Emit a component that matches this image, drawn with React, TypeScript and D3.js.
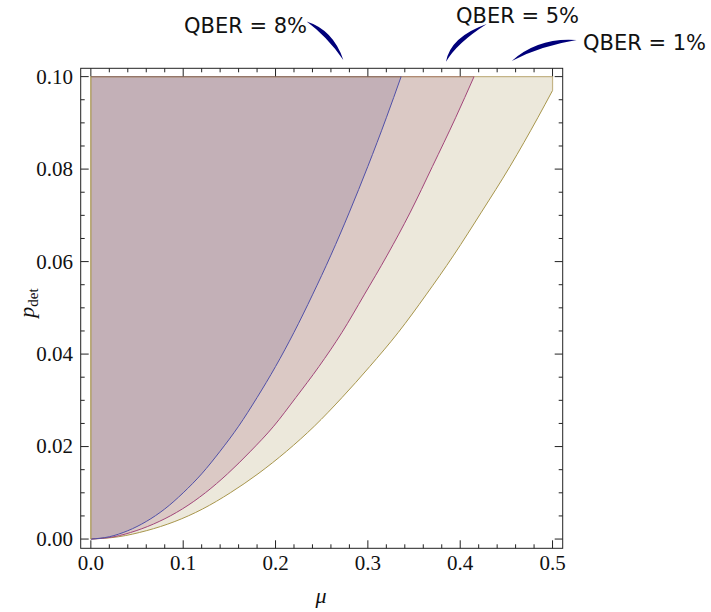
import React, { useRef, useEffect } from 'react';
import * as d3 from 'd3';

// boundary curves (mu, p_det)
const mu8 = [0, 0.02, 0.04, 0.06, 0.08, 0.1, 0.12, 0.14, 0.16, 0.18, 0.2, 0.22, 0.24, 0.26, 0.28, 0.3, 0.32, 0.336];
const p8 = [0, 0.0005, 0.0018, 0.0038, 0.0065, 0.01, 0.0141, 0.019, 0.0244, 0.0306, 0.0373, 0.0447, 0.0528, 0.0614, 0.0707, 0.0806, 0.0911, 0.1];

const mu5 = [0, 0.025, 0.049, 0.074, 0.099, 0.124, 0.148, 0.173, 0.198, 0.222, 0.247, 0.272, 0.296, 0.321, 0.346, 0.37, 0.395, 0.415];
const p5 = [0, 0.0005, 0.0018, 0.0038, 0.0065, 0.01, 0.0141, 0.019, 0.0244, 0.0306, 0.0373, 0.0447, 0.0528, 0.0614, 0.0707, 0.0806, 0.0911, 0.1];

const mu1 = [0, 0.03, 0.06, 0.091, 0.121, 0.151, 0.181, 0.212, 0.242, 0.272, 0.302, 0.333, 0.363, 0.393, 0.423, 0.454, 0.484, 0.5];
const p1 = [0, 0.0005, 0.0018, 0.0038, 0.0065, 0.01, 0.0141, 0.019, 0.0244, 0.0306, 0.0373, 0.0447, 0.0528, 0.0614, 0.0707, 0.0806, 0.0911, 0.097];

const xTicks = [0, 0.1, 0.2, 0.3, 0.4, 0.5];
const yTicks = [0, 0.02, 0.04, 0.06, 0.08, 0.1];

const pMax = 0.1;

// regions, drawn outer first
const regions = [
  { name: '1%', mu: mu1, p: p1, fill: '#ece8db', stroke: '#a8964c', top: '#c4b487' },
  { name: '5%', mu: mu5, p: p5, fill: '#dbc9c5', stroke: '#a2467a', top: '#b08a74' },
  { name: '8%', mu: mu8, p: p8, fill: '#c3b0b7', stroke: '#5050a8', top: '#94766a' },
];

// labels + arrows, in data coordinates (outside the frame, above p = 0.1)
const notes = [
  { text: 'QBER = 8%', tx: 0.2341, ty: 0.1094, anchor: 'end', a0: [0.2337, 0.1119], a1: [0.259, 0.1094], a2: [0.2734, 0.1036] },
  { text: 'QBER = 5%', tx: 0.3954, ty: 0.1117, anchor: 'start', a0: [0.4287, 0.1114], a1: [0.3925, 0.1079], a2: [0.3846, 0.1032] },
  { text: 'QBER = 1%', tx: 0.533, ty: 0.1058, anchor: 'start', a0: [0.5261, 0.1079], a1: [0.4864, 0.1076], a2: [0.4558, 0.1034] },
];

const App = () => {
  const svgRef = useRef<SVGSVGElement>(null);
  const width = 711;
  const height = 612;

  useEffect(() => {
    const svg = d3.select(svgRef.current).attr('width', width).attr('height', height);
    svg.selectAll('*').remove();

    const x = d3.scaleLinear().domain([-0.011, 0.511]).range([80.7, 562.7]);
    const y = d3.scaleLinear().domain([-0.002, 0.1018]).range([548.3, 68.3]);

    const [fx0, fx1] = x.range();
    const [fy0, fy1] = y.range(); // fy0 bottom, fy1 top

    const toPts = (r: { mu: number[]; p: number[] }) => r.mu.map((m, i) => [m, r.p[i]] as [number, number]);
    const straight = d3.line<[number, number]>().x(d => x(d[0])).y(d => y(d[1]));

    // filled regions
    regions.forEach(r => {
      const area = d3
        .area<[number, number]>()
        .x(d => x(d[0]))
        .y0(y(pMax))
        .y1(d => y(d[1]))
        .curve(d3.curveMonotoneX);
      svg.append('path').attr('d', area(toPts(r))).attr('fill', r.fill).attr('stroke', 'none');
    });

    // top edges (and the short right edge of the 1% region)
    regions.forEach(r => {
      const pts = toPts(r);
      const last = pts[pts.length - 1];
      const edge: [number, number][] = [last, [last[0], pMax], [0, pMax]];
      svg
        .append('path')
        .attr('d', straight(edge))
        .attr('fill', 'none')
        .attr('stroke', r.name === '1%' ? r.top : r.top)
        .attr('stroke-width', 1.2);
    });

    // curved boundaries
    regions.forEach(r => {
      const line = d3
        .line<[number, number]>()
        .x(d => x(d[0]))
        .y(d => y(d[1]))
        .curve(d3.curveMonotoneX);
      svg.append('path').attr('d', line(toPts(r))).attr('fill', 'none').attr('stroke', r.stroke).attr('stroke-width', 1);
    });

    // left edge shows the outer region's colour
    svg
      .append('path')
      .attr('d', straight([[0, 0], [0, pMax]]))
      .attr('fill', 'none')
      .attr('stroke', regions[0].stroke)
      .attr('stroke-width', 1.2);

    // frame
    svg
      .append('rect')
      .attr('x', fx0)
      .attr('y', fy1)
      .attr('width', fx1 - fx0)
      .attr('height', fy0 - fy1)
      .attr('fill', 'none')
      .attr('stroke', '#222')
      .attr('stroke-width', 1);

    const tk = svg.append('g').attr('stroke', '#222').attr('stroke-width', 1);
    const xMinor = d3.range(0, 0.5001, 0.02);
    xMinor.forEach(v => {
      const major = xTicks.some(t => Math.abs(t - v) < 1e-6);
      const len = major ? 8 : 4;
      tk.append('line').attr('x1', x(v)).attr('x2', x(v)).attr('y1', fy0).attr('y2', fy0 - len);
      tk.append('line').attr('x1', x(v)).attr('x2', x(v)).attr('y1', fy1).attr('y2', fy1 + len);
    });
    const yMinor = d3.range(0, 0.10001, 0.005);
    yMinor.forEach(v => {
      const major = yTicks.some(t => Math.abs(t - v) < 1e-6);
      const len = major ? 8 : 4;
      tk.append('line').attr('y1', y(v)).attr('y2', y(v)).attr('x1', fx0).attr('x2', fx0 + len);
      tk.append('line').attr('y1', y(v)).attr('y2', y(v)).attr('x1', fx1).attr('x2', fx1 - len);
    });

    const serif = '"Liberation Serif", "DejaVu Serif", serif';
    svg
      .append('g')
      .selectAll('text')
      .data(xTicks)
      .enter()
      .append('text')
      .attr('x', d => x(d))
      .attr('y', 570)
      .attr('text-anchor', 'middle')
      .attr('font-family', serif)
      .attr('font-size', 21)
      .attr('fill', '#111')
      .text(d => d.toFixed(1));

    svg
      .append('g')
      .selectAll('text')
      .data(yTicks)
      .enter()
      .append('text')
      .attr('x', 73)
      .attr('y', d => y(d))
      .attr('dy', '0.33em')
      .attr('text-anchor', 'end')
      .attr('font-family', serif)
      .attr('font-size', 21)
      .attr('fill', '#111')
      .text(d => d.toFixed(2));

    // axis titles
    svg
      .append('text')
      .attr('x', 321)
      .attr('y', 603)
      .attr('text-anchor', 'middle')
      .attr('font-family', serif)
      .attr('font-style', 'italic')
      .attr('font-size', 22)
      .attr('fill', '#111')
      .text('\u03bc');

    const yl = svg
      .append('text')
      .attr('transform', 'translate(34,303) rotate(-90)')
      .attr('text-anchor', 'middle')
      .attr('font-family', serif)
      .attr('font-size', 22)
      .attr('fill', '#111');
    yl.append('tspan').attr('font-style', 'italic').text('p');
    yl.append('tspan').attr('font-size', 15).attr('dy', 4).text('det');

    // annotations
    notes.forEach(n => {
      svg
        .append('text')
        .attr('x', x(n.tx))
        .attr('y', y(n.ty))
        .attr('text-anchor', n.anchor)
        .attr('font-family', '"DejaVu Sans", sans-serif')
        .attr('font-size', 21)
        .attr('fill', '#111')
        .text(n.text);

      const P0 = [x(n.a0[0]), y(n.a0[1])];
      const P1 = [x(n.a1[0]), y(n.a1[1])];
      const P2 = [x(n.a2[0]), y(n.a2[1])];
      const dx = P2[0] - P0[0];
      const dy = P2[1] - P0[1];
      const L = Math.hypot(dx, dy);
      const nx = -dy / L;
      const ny = dx / L;
      const w = 4.5;
      const path = d3.path();
      path.moveTo(P0[0], P0[1]);
      path.quadraticCurveTo(P1[0] + nx * w, P1[1] + ny * w, P2[0], P2[1]);
      path.quadraticCurveTo(P1[0] - nx * w, P1[1] - ny * w, P0[0], P0[1]);
      path.closePath();
      svg.append('path').attr('d', path.toString()).attr('fill', '#00007a');
    });
  }, []);

  return (
    <div style={{ position: 'absolute', left: 0, top: 0 }}>
      <svg ref={svgRef} style={{ display: 'block' }}></svg>
    </div>
  );
};

export default App;
